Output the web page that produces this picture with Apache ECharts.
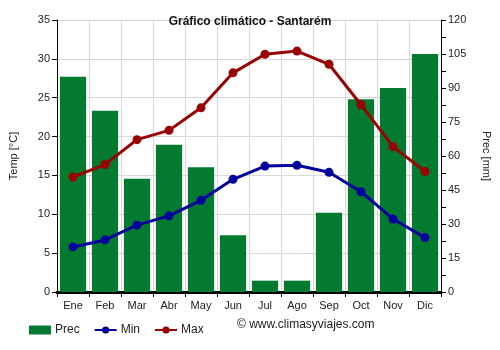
<!DOCTYPE html>
<html>
<head>
<meta charset="utf-8">
<style>
  html, body { margin: 0; padding: 0; background: #fff; }
  #chart { width: 500px; height: 350px; }
</style>
<script src="https://cdn.jsdelivr.net/npm/echarts@6/dist/echarts.min.js"></script>
</head>
<body>
<div id="chart"></div>
<script>
// Monthly climate figures for Santarém
const months = ['Ene', 'Feb', 'Mar', 'Abr', 'May', 'Jun', 'Jul', 'Ago', 'Sep', 'Oct', 'Nov', 'Dic'];
const precMm = [95, 80, 50, 65, 55, 25, 5, 5, 35, 85, 90, 105];
const minTemp = [5.8, 6.7, 8.6, 9.8, 11.8, 14.5, 16.2, 16.3, 15.4, 12.9, 9.4, 7.0];
const maxTemp = [14.8, 16.4, 19.6, 20.8, 23.7, 28.2, 30.6, 31.0, 29.3, 24.1, 18.7, 15.5];

const FONT = 'Liberation Sans, Arial, sans-serif';
const TEXT = '#222';

const chart = echarts.init(document.getElementById('chart'), null, { renderer: 'canvas' });

chart.setOption({
  animation: false,
  backgroundColor: '#fff',
  title: {
    text: 'Gráfico climático - Santarém',
    left: 'center',
    top: 11,
    textStyle: { fontFamily: FONT, fontSize: 12, fontWeight: 'bold', color: '#111' }
  },
  grid: { left: 49, right: 54, top: 20, bottom: 58, containLabel: false },
  legend: {
    left: 24,
    top: 319,
    itemGap: 14,
    itemWidth: 22,
    itemHeight: 9,
    textStyle: { fontFamily: FONT, fontSize: 12, color: TEXT, padding: [0, 0, 0, -1] },
    data: [
      { name: 'Prec', icon: 'rect' },
      { name: 'Min' },
      { name: 'Max' }
    ]
  },
  graphic: [{
    type: 'text',
    left: 237,
    top: 319,
    style: { text: '© www.climasyviajes.com', fontFamily: FONT, fontSize: 12, fill: TEXT }
  }],
  xAxis: {
    type: 'category',
    data: months,
    boundaryGap: true,
    axisLine: { show: true, lineStyle: { color: '#000', width: 3 } },
    axisTick: { show: true, length: 5, lineStyle: { color: '#000' } },
    axisLabel: { fontFamily: FONT, fontSize: 11, color: TEXT, margin: 8 },
    splitLine: { show: true, lineStyle: { color: '#d9d9d9', width: 1 } }
  },
  yAxis: [
    {
      type: 'value',
      min: 0, max: 35, interval: 5,
      position: 'left',
      name: 'Temp [°C]',
      nameLocation: 'middle',
      nameRotate: 90,
      nameGap: 38,
      nameTextStyle: { fontFamily: FONT, fontSize: 11, color: TEXT },
      axisLine: { show: true, lineStyle: { color: '#000' } },
      axisTick: { show: true, length: 5, lineStyle: { color: '#000' } },
      axisLabel: { fontFamily: FONT, fontSize: 11, color: TEXT, margin: 7 },
      splitLine: { show: true, lineStyle: { color: '#d9d9d9', width: 1 } }
    },
    {
      type: 'value',
      min: 0, max: 120, interval: 15,
      position: 'right',
      name: 'Prec [mm]',
      nameLocation: 'middle',
      nameRotate: -90,
      nameGap: 40,
      nameTextStyle: { fontFamily: FONT, fontSize: 11, color: TEXT },
      axisLine: { show: true, lineStyle: { color: '#000' } },
      axisTick: { show: true, length: 5, lineStyle: { color: '#000' } },
      minorTick: { show: true, splitNumber: 2, length: 5, lineStyle: { color: '#000' } },
      axisLabel: { fontFamily: FONT, fontSize: 11, color: TEXT, margin: 7 },
      splitLine: { show: false }
    }
  ],
  series: [
    {
      name: 'Prec',
      type: 'bar',
      yAxisIndex: 1,
      data: precMm,
      barCategoryGap: '18%',
      itemStyle: { color: '#037a30' },
      z: 2
    },
    {
      name: 'Min',
      type: 'line',
      yAxisIndex: 0,
      data: minTemp,
      symbol: 'circle',
      symbolSize: 9,
      lineStyle: { color: '#00039b', width: 3 },
      itemStyle: { color: '#00039b' },
      z: 4
    },
    {
      name: 'Max',
      type: 'line',
      yAxisIndex: 0,
      data: maxTemp,
      symbol: 'circle',
      symbolSize: 9,
      lineStyle: { color: '#990303', width: 3 },
      itemStyle: { color: '#990303' },
      z: 5
    }
  ]
});
</script>
</body>
</html>
